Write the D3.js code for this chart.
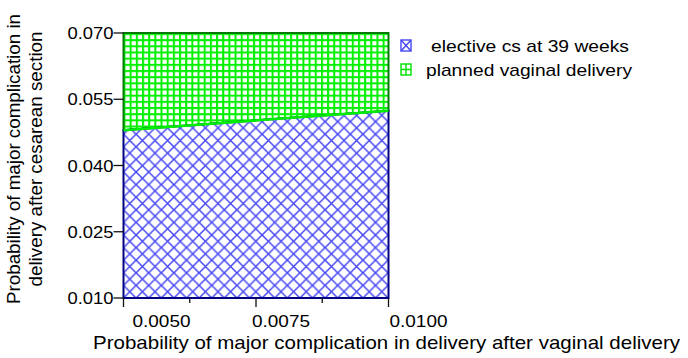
<!DOCTYPE html>
<html>
<head>
<meta charset="utf-8">
<script src="https://cdn.jsdelivr.net/npm/d3@7"></script>
<style>
  body { margin: 0; background: #fff; }
  svg { display: block; font-family: Arial, "Liberation Sans", sans-serif; }
</style>
</head>
<body>
<div id="chart"></div>
<script>
// strategy regions: boundary where both strategies are equal
const xDomain = [0.005, 0.010];
const yDomain = [0.010, 0.070];
const boundaryX = [0.005, 0.010];
const boundaryY = [0.0480, 0.0524];
const xTicks = [0.0050, 0.0075, 0.0100];
const xMinorTicks = [0.00625, 0.00875];
const xTickLabels = ['0.0050', '0.0075', '0.0100'];
const yTicks = [0.010, 0.025, 0.040, 0.055, 0.070];
const yTickLabels = ['0.010', '0.025', '0.040', '0.055', '0.070'];
const strategies = ['elective cs at 39 weeks', 'planned vaginal delivery'];
const xTitle = 'Probability of major complication in delivery after vaginal delivery';
const yTitle = ['Probability of major complication in', 'delivery after cesarean section'];

const width = 688, height = 358;
const plot = { left: 123.5, right: 388.5, top: 33, bottom: 298 };

const svg = d3.select('#chart').append('svg')
  .attr('width', width)
  .attr('height', height);

const x = d3.scaleLinear().domain(xDomain).range([plot.left, plot.right]);
const y = d3.scaleLinear().domain(yDomain).range([plot.bottom, plot.top]);

// hatch patterns
const defs = svg.append('defs');
const hs = 12.6;
const cross = defs.append('pattern')
  .attr('id', 'cross')
  .attr('patternUnits', 'userSpaceOnUse')
  .attr('width', hs).attr('height', hs)
  .attr('x', plot.left).attr('y', plot.bottom);
cross.append('rect').attr('width', hs).attr('height', hs).attr('fill', '#fff');
cross.append('path')
  .attr('d', `M0,0L${hs},${hs}M${hs},0L0,${hs}`)
  .attr('stroke', '#4646f5').attr('stroke-width', 1.5).attr('fill', 'none');

const gs = 6.17;
const grid = defs.append('pattern')
  .attr('id', 'grid')
  .attr('patternUnits', 'userSpaceOnUse')
  .attr('width', gs).attr('height', gs)
  .attr('x', plot.left).attr('y', plot.top);
grid.append('rect').attr('width', gs).attr('height', gs).attr('fill', '#fff');
grid.append('path')
  .attr('d', `M1,0V${gs}M0,1H${gs}`)
  .attr('stroke', '#00f000').attr('stroke-width', 2).attr('fill', 'none');

const bLine = boundaryX.map((d, i) => [x(d), y(boundaryY[i])]);

// lower region: elective cs
const lowerPts = [[x(xDomain[0]), y(yDomain[0])], ...bLine, [x(xDomain[1]), y(yDomain[0])]];
// upper region: planned vaginal delivery
const upperPts = [[x(xDomain[0]), y(yDomain[1])], ...bLine, [x(xDomain[1]), y(yDomain[1])]];

const line = d3.line();

svg.append('path')
  .attr('d', line(upperPts) + 'Z')
  .attr('fill', 'url(#grid)')
  .attr('stroke', '#007a00')
  .attr('stroke-width', 2);

svg.append('path')
  .attr('d', line(lowerPts) + 'Z')
  .attr('fill', 'url(#cross)')
  .attr('stroke', '#000080')
  .attr('stroke-width', 2);

svg.append('path')
  .attr('d', line(bLine))
  .attr('fill', 'none')
  .attr('stroke', '#00ee00')
  .attr('stroke-width', 2.5);

// y axis ticks + labels
const yAxis = svg.append('g');
yAxis.selectAll('line')
  .data(yTicks)
  .enter().append('line')
  .attr('x1', plot.left - 10).attr('x2', plot.left)
  .attr('y1', d => y(d)).attr('y2', d => y(d))
  .attr('stroke', '#111').attr('stroke-width', 1.3);
yAxis.selectAll('text')
  .data(yTicks)
  .enter().append('text')
  .attr('x', plot.left - 10)
  .attr('y', d => y(d) + 6)
  .attr('text-anchor', 'end')
  .attr('font-size', 16.5)
  .attr('textLength', 46)
  .attr('lengthAdjust', 'spacingAndGlyphs')
  .text((d, i) => yTickLabels[i]);

// x axis ticks + labels
const xAxis = svg.append('g');
xAxis.selectAll('line.major')
  .data(xTicks)
  .enter().append('line')
  .attr('class', 'major')
  .attr('x1', d => x(d)).attr('x2', d => x(d))
  .attr('y1', plot.bottom).attr('y2', plot.bottom + 9)
  .attr('stroke', '#111').attr('stroke-width', 1.3);
xAxis.selectAll('line.minor')
  .data(xMinorTicks)
  .enter().append('line')
  .attr('class', 'minor')
  .attr('x1', d => x(d)).attr('x2', d => x(d))
  .attr('y1', plot.bottom).attr('y2', plot.bottom + 5)
  .attr('stroke', '#111').attr('stroke-width', 1.3);
const xLabelShift = [9, -4, 1];
xAxis.selectAll('text')
  .data(xTicks)
  .enter().append('text')
  .attr('x', (d, i) => x(d) + xLabelShift[i])
  .attr('y', plot.bottom + 28.5)
  .attr('font-size', 17)
  .attr('textLength', 58)
  .attr('lengthAdjust', 'spacingAndGlyphs')
  .text((d, i) => xTickLabels[i]);

// axis titles
svg.append('text')
  .attr('x', 93)
  .attr('y', 348.5)
  .attr('font-size', 19)
  .attr('textLength', 587)
  .attr('lengthAdjust', 'spacingAndGlyphs')
  .text(xTitle);

const yTitleLengths = [290, 255];
svg.append('g')
  .attr('transform', 'translate(0,159) rotate(-90)')
  .selectAll('text')
  .data(yTitle)
  .enter().append('text')
  .attr('x', 0)
  .attr('y', (d, i) => 20 + i * 22)
  .attr('text-anchor', 'middle')
  .attr('font-size', 18.5)
  .attr('textLength', (d, i) => yTitleLengths[i])
  .attr('lengthAdjust', 'spacingAndGlyphs')
  .text(d => d);

// legend
const legendX = [431, 426];
const legendLen = [198, 206];
const legend = svg.append('g');
const items = legend.selectAll('g')
  .data(strategies)
  .enter().append('g')
  .attr('transform', (d, i) => `translate(401,${40 + i * 24})`);
items.append('rect')
  .attr('width', 10).attr('height', 11)
  .attr('fill', '#fff')
  .attr('stroke', (d, i) => i === 0 ? '#4646f5' : '#00e000')
  .attr('stroke-width', 1.4);
items.append('path')
  .attr('d', (d, i) => i === 0 ? 'M0,0L10,11M10,0L0,11' : 'M5,0V11M0,5.5H10')
  .attr('stroke', (d, i) => i === 0 ? '#4646f5' : '#00e000')
  .attr('stroke-width', 1.4)
  .attr('fill', 'none');
items.append('text')
  .attr('x', (d, i) => legendX[i] - 401)
  .attr('y', 11.5)
  .attr('font-size', 17)
  .attr('textLength', (d, i) => legendLen[i])
  .attr('lengthAdjust', 'spacingAndGlyphs')
  .text(d => d);
</script>
</body>
</html>
